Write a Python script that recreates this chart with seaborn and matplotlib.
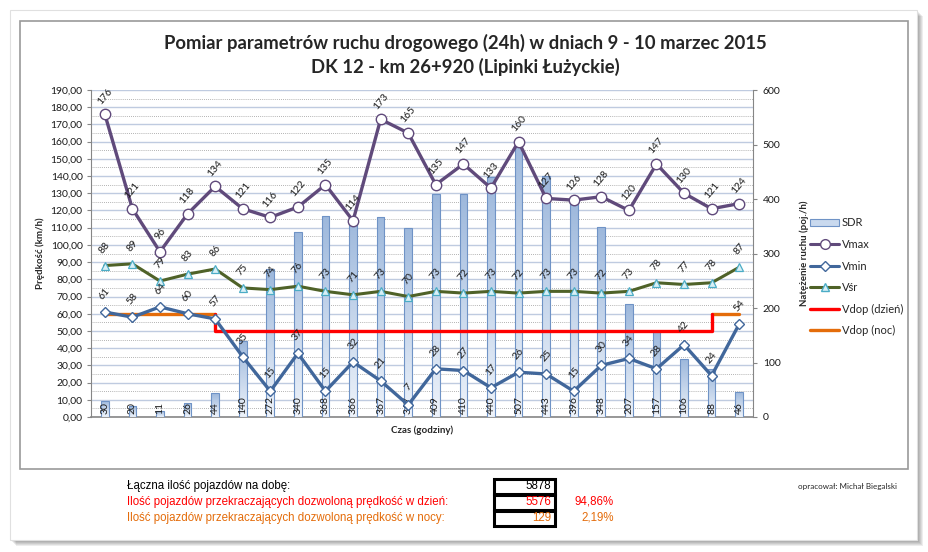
import numpy as np
import matplotlib
matplotlib.use('Agg')
import matplotlib.pyplot as plt
import seaborn as sns
from matplotlib.ticker import MultipleLocator, FuncFormatter
from matplotlib.patches import Rectangle, Patch
from matplotlib.lines import Line2D

# dane z pomiaru
godziny = list(range(1, 25))
sdr = [30, 20, 11, 26, 44, 140, 272, 340, 368, 366, 367, 347,
       409, 410, 440, 507, 443, 396, 348, 207, 157, 106, 88, 46]
vmax = [176, 121, 96, 118, 134, 121, 116, 122, 135, 114, 173, 165,
        135, 147, 133, 160, 127, 126, 128, 120, 147, 130, 121, 124]
vmin = [61, 58, 64, 60, 57, 35, 15, 37, 15, 32, 21, 7,
        28, 27, 17, 26, 25, 15, 30, 34, 28, 42, 24, 54]
vsr = [88, 89, 79, 83, 86, 75, 74, 76, 73, 71, 73, 70,
       73, 72, 73, 72, 73, 73, 72, 73, 78, 77, 78, 87]
vdop_dzien_x = [5, 5, 23, 23]
vdop_dzien_y = [60, 50, 50, 60]
vdop_noc_rano_x = [1, 5]
vdop_noc_wieczor_x = [23, 24]
vdop_noc_y = [60, 60]

tytul = ["Pomiar parametrów ruchu drogowego (24h) w dniach 9 - 10 marzec 2015",
         "DK 12 - km 26+920 (Lipinki Łużyckie)"]
opisy = ["Łączna ilość pojazdów na dobę:",
         "Ilość pojazdów przekraczających dozwoloną prędkość w dzień:",
         "Ilość pojazdów przekraczających dozwoloną prędkość w nocy:"]
liczby = [5878, 5576, 129]
procenty = ["", "94,86%", "2,19%"]

sns.set_style("white")
plt.rcParams['font.family'] = ['Lato', 'DejaVu Sans']

c_max = '#604a7b'
c_min = '#41679b'
c_sr = '#4f6228'
c_dz = '#ff0000'
c_noc = '#e46c0a'

W, H = 929, 552
fig = plt.figure(figsize=(W / 100, H / 100), dpi=100)
fig.patch.set_facecolor('white')

def px(x0, y0, x1, y1):
    return (x0 / W, 1 - y1 / H, (x1 - x0) / W, (y1 - y0) / H)

# arkusz z cieniem
l, b, w, h = px(10, 10, 917, 540)
for i in range(1, 7):
    fig.patches.append(Rectangle((l + i / W, b - i / H), w, h, transform=fig.transFigure,
                                 facecolor='black', alpha=0.07, lw=0, zorder=-5))
fig.patches.append(Rectangle((l, b), w, h, transform=fig.transFigure,
                             facecolor='white', edgecolor='#e0e0e0', lw=0.8, zorder=-4))
l, b, w, h = px(20, 21, 908, 469)
fig.patches.append(Rectangle((l, b), w, h, transform=fig.transFigure,
                             facecolor='white', edgecolor='#9a9a9a', lw=1.2, zorder=-3))

pos = px(91, 90, 753, 417)
ax = fig.add_axes(pos)
ax2 = ax.twinx()
axt = fig.add_axes(pos, sharex=ax, sharey=ax)
ax.set_zorder(1)
ax2.set_zorder(2)
axt.set_zorder(3)
for a in (ax, ax2, axt):
    a.patch.set_visible(False)

# slupki SDR
sns.barplot(x=godziny, y=sdr, native_scale=True, width=0.28, errorbar=None,
            color='#b8cce4', edgecolor='#6f93c6', linewidth=0.8, ax=ax2)
grad = np.linspace(1, 0, 100).reshape(-1, 1)
cmap = matplotlib.colors.LinearSegmentedColormap.from_list('g', ['#eef3fa', '#9db8dc'])
for p in list(ax2.patches):
    x0, y0 = p.get_x(), p.get_y()
    im = ax2.imshow(grad, extent=[x0, x0 + p.get_width(), y0, y0 + p.get_height()],
                    aspect='auto', cmap=cmap, origin='upper', zorder=1)
    im.set_clip_path(p)
    p.set_facecolor('none')
    p.set_zorder(2)
for x, v in zip(godziny, sdr):
    ax2.annotate(str(v), (x, 0), xytext=(0, 2.5), textcoords='offset points',
                 rotation=90, ha='center', va='bottom', fontsize=7.5, color='#1a1a1a', zorder=5)

# linie predkosci
bez_agr = dict(estimator=None, errorbar=None, sort=False)
sns.lineplot(x=vdop_noc_rano_x, y=vdop_noc_y, color=c_noc, lw=2.4, ax=axt, **bez_agr)
sns.lineplot(x=vdop_noc_wieczor_x, y=vdop_noc_y, color=c_noc, lw=2.4, ax=axt, **bez_agr)
sns.lineplot(x=vdop_dzien_x, y=vdop_dzien_y, color=c_dz, lw=2.4, ax=axt, **bez_agr)
sns.lineplot(x=godziny, y=vsr, color=c_sr, lw=2.2, marker='^', markersize=6,
             markerfacecolor='#d9f0f6', markeredgecolor='#4bacc6', markeredgewidth=0.9,
             ax=axt, **bez_agr)
sns.lineplot(x=godziny, y=vmin, color=c_min, lw=2.4, marker='D', markersize=5.5,
             markerfacecolor='white', markeredgecolor=c_min, markeredgewidth=1.0,
             ax=axt, **bez_agr)
sns.lineplot(x=godziny, y=vmax, color=c_max, lw=2.4, marker='o', markersize=7.5,
             markerfacecolor='white', markeredgecolor=c_max, markeredgewidth=1.0,
             ax=axt, **bez_agr)

for serie in (vmax, vsr, vmin):
    for x, v in zip(godziny, serie):
        axt.annotate(str(v), (x, v), xytext=(0, 13), textcoords='offset points',
                     rotation=50, ha='center', va='center', fontsize=7.5, color='#1a1a1a')

# osie
ax.set_xlim(0.5, 24.5)
ax.set_ylim(0, 190)
ax2.set_ylim(0, 600)
ax2.set_xlim(0.5, 24.5)
ax.yaxis.set_major_locator(MultipleLocator(10))
ax.yaxis.set_minor_locator(MultipleLocator(5))
ax.yaxis.set_major_formatter(FuncFormatter(lambda v, _: f"{v:.2f}".replace('.', ',')))
ax.set_xticks(godziny)
ax.set_xticklabels([str(g) for g in godziny])
ax.grid(True, which='major', axis='y', color='#bfcbe0', lw=1.0, ls='-')
ax.grid(True, which='minor', axis='y', color='#9a9a9a', lw=0.6, ls=(0, (1, 1.5)))
ax.grid(False, axis='x')
ax.tick_params(axis='y', which='major', length=3, color='#868686', labelsize=7.5,
               labelcolor='#1a1a1a', direction='out', left=True, pad=3)
ax.tick_params(axis='y', which='minor', length=0)
ax.tick_params(axis='x', length=0, labelsize=7.5, labelcolor='#1a1a1a', pad=12)
ax2.yaxis.set_major_locator(MultipleLocator(100))
ax2.tick_params(axis='y', length=3, color='#868686', labelsize=7.5, labelcolor='#1a1a1a',
                direction='out', right=True, pad=4)
ax2.set_xticks([])
for s in ('top', 'right'):
    ax.spines[s].set_visible(False)
for s in ('top', 'left', 'bottom'):
    ax2.spines[s].set_visible(False)
ax.spines['left'].set_color('#868686')
ax.spines['bottom'].set_color('#868686')
ax.spines['bottom'].set_linewidth(1.2)
ax2.spines['right'].set_color('#868686')
axt.axis('off')

ax.set_xlabel("Czas (godziny)", fontsize=7, fontweight='bold', labelpad=6)
ax.set_ylabel("Prędkość (km/h)", fontsize=7, fontweight='bold', labelpad=4)
ax2.set_ylabel("Natężenie ruchu (poj./h)", fontsize=7, fontweight='bold', labelpad=14)

# legenda
uchwyty = [Patch(facecolor='#c9d9ee', edgecolor='#6f93c6', lw=0.8),
           Line2D([], [], color=c_max, lw=2.2, marker='o', markersize=7,
                  markerfacecolor='white', markeredgecolor=c_max),
           Line2D([], [], color=c_min, lw=2.2, marker='D', markersize=5,
                  markerfacecolor='white', markeredgecolor=c_min),
           Line2D([], [], color=c_sr, lw=2.2, marker='^', markersize=6,
                  markerfacecolor='#d9f0f6', markeredgecolor='#4bacc6'),
           Line2D([], [], color=c_dz, lw=2.4),
           Line2D([], [], color=c_noc, lw=2.4)]
fig.legend(uchwyty, ["SDR", "Vmax", "Vmin", "Vśr", "Vdop (dzień)", "Vdop (noc)"],
           loc='upper left', bbox_to_anchor=(806 / W, 1 - 213 / H), frameon=False,
           fontsize=8, handlelength=2.6, handletextpad=0.2, labelspacing=0.95,
           borderaxespad=0)

# tytul
fig.text(465 / W, 1 - 43 / H, tytul[0], ha='center', va='center', fontsize=13.3, fontweight='bold')
fig.text(465 / W, 1 - 67 / H, tytul[1], ha='center', va='center', fontsize=13.3, fontweight='bold')
fig.text(897 / W, 1 - 487 / H, "opracował: Michał Biegalski", ha='right', va='center', fontsize=5.8)

# tabela podsumowania
kolory = ['black', c_dz, c_noc]
for i in range(3):
    yy = 486 + i * 16
    fig.text(127 / W, 1 - yy / H, opisy[i], ha='left', va='center', fontsize=8.3,
             color=kolory[i], family='Liberation Sans')
    fig.text(551 / W, 1 - yy / H, str(liczby[i]), ha='right', va='center', fontsize=8.3,
             color=kolory[i], family='Liberation Sans')
    fig.text(614 / W, 1 - yy / H, procenty[i], ha='right', va='center', fontsize=8.3,
             color=c_dz if i == 1 else c_noc, family='Liberation Sans')
    l, b, w, h = px(494, yy - 7.5, 555, yy + 7.5)
    fig.patches.append(Rectangle((l, b), w, h, transform=fig.transFigure,
                                 facecolor='none', edgecolor='black', lw=2.2))

fig.savefig('out.png', dpi=100)
